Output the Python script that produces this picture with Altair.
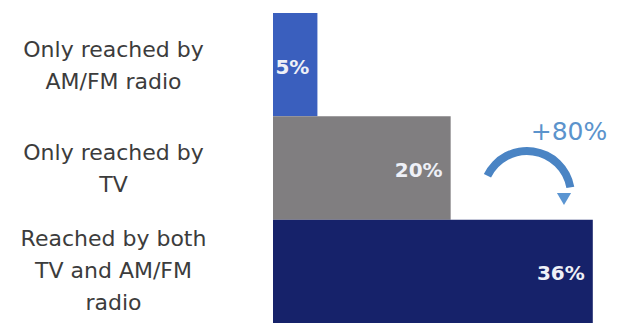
import altair as alt
import pandas as pd

categories = ["Only reached by|AM/FM radio", "Only reached by|TV", "Reached by both|TV and AM/FM|radio"]
values = [5, 20, 36]
value_labels = ["5%", "20%", "36%"]
colors = ["#3a5fbe", "#807e80", "#16226a"]
change_label = ["+80%"]

df = pd.DataFrame({"cat": categories, "val": values, "lab": value_labels, "col": colors})
one = pd.DataFrame({"t": change_label})

font = "DejaVu Sans"

y_enc = alt.Y("cat:N", sort=categories,
              scale=alt.Scale(paddingInner=0, paddingOuter=0),
              axis=alt.Axis(title=None, domain=False, ticks=False, tickSize=0, grid=False,
                            labelAlign="center", labelBaseline="middle",
                            labelPadding=160, labelFontSize=22, labelLineHeight=32,
                            labelColor="#3c3c3c", labelFont=font, labelLimit=0,
                            labelOffset={"condition": {"test": "indexof(datum.value, 'both') >= 0", "value": -32}, "value": -15},
                            labelExpr="split(datum.label, '|')"))
x_enc = alt.X("val:Q", scale=alt.Scale(domain=[0, 39.4], nice=False), axis=None)

bars = alt.Chart(df).mark_bar(cornerRadius=0).encode(
    y=y_enc, x=x_enc, color=alt.Color("col:N", scale=None))

texts = alt.Chart(df).mark_text(align="right", baseline="middle", dx=-8, dy=3,
                                fontSize=20, fontWeight="bold", font=font,
                                color="#eef0f7").encode(
    y=alt.Y("cat:N", sort=categories),
    x=alt.X("val:Q"), text="lab:N")

arc = alt.Chart(one).mark_arc(x=254, y=182, theta=5.166, theta2=7.68,
                              radius=48, radius2=40).encode(color=alt.value("#4a84c4"))
head = alt.Chart(one).mark_point(shape="triangle-down", filled=True, size=200, opacity=1,
                                 x=291, y=186).encode(color=alt.value("#5b95d2"))
ann = alt.Chart(one).mark_text(fontSize=25, font=font, color="#5b93cc",
                               align="center", baseline="middle",
                               x=296, y=119).encode(text="t:N")

chart = alt.layer(bars, texts, arc, head, ann).properties(
    width=350, height=310,
    background="white",
    autosize=alt.AutoSizeParams(type="none"),
    padding={"left": 273, "top": 13, "right": 0, "bottom": 0},
).configure_view(stroke=None, strokeWidth=0).configure_axis(grid=False)

chart.save("out.html", embed_options={"renderer": "svg", "actions": False})
